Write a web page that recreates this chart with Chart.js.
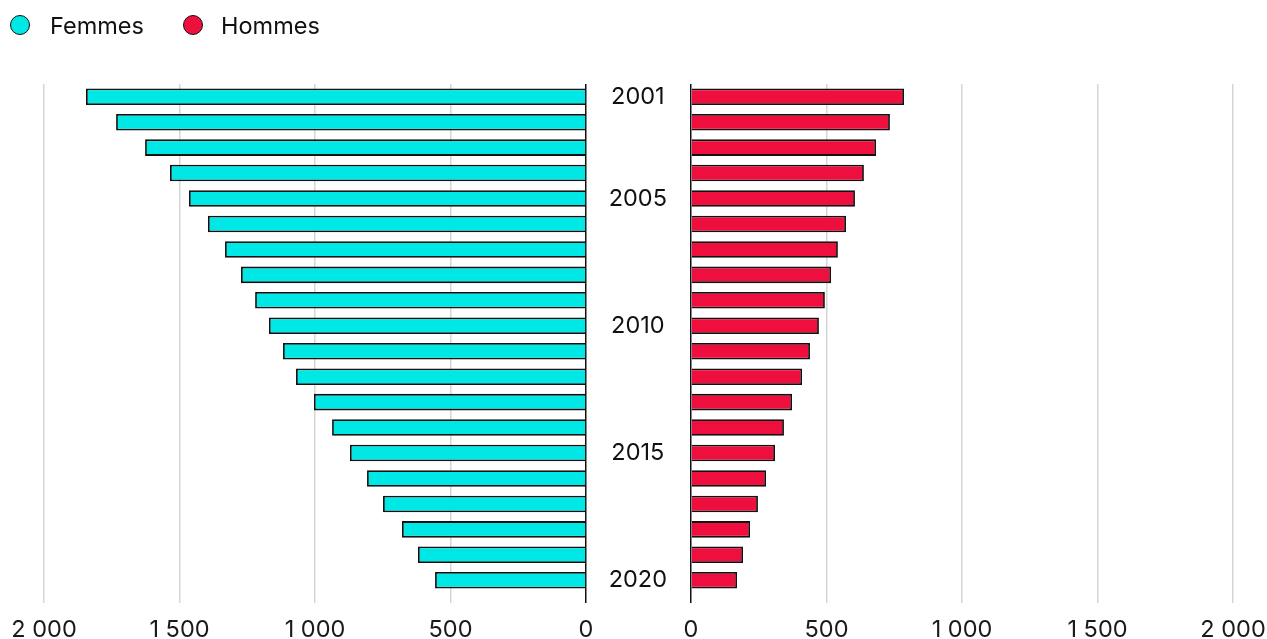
<!DOCTYPE html>
<html>
<head>
<meta charset="utf-8">
<script src="https://cdn.jsdelivr.net/npm/chart.js@4/dist/chart.umd.min.js"></script>
<style>
  body { margin:0; background:#fff; font-family: Inter, sans-serif; }
  #wrap { position:relative; width:1267px; height:639px; overflow:hidden; }
  canvas { position:absolute; top:0; }
  #left { left:0; }
  #right { left:586px; }
  .legend { position:absolute; top:0; left:0; height:50px; font-size:23.5px; color:#111; }
  .item { position:absolute; top:11px; display:flex; align-items:center; height:28px; }
  .dot { width:20px; height:20px; border-radius:50%; border:1px solid #111; box-sizing:border-box; }
</style>
</head>
<body>
<div id="wrap">
  <canvas id="left" width="620" height="639"></canvas>
  <canvas id="right" width="681" height="639"></canvas>
  <div class="legend">
    <div class="item" style="left:10px"><span class="dot" style="background:#00E8E6"></span><span style="margin-left:20px">Femmes</span></div>
    <div class="item" style="left:183px"><span class="dot" style="background:#EF0F3F"></span><span style="margin-left:18px">Hommes</span></div>
  </div>
</div>
<script>
// data
const years = ["2001","2002","2003","2004","2005","2006","2007","2008","2009","2010",
               "2011","2012","2013","2014","2015","2016","2017","2018","2019","2020"];
const femmes = [1845,1734,1627,1535,1465,1395,1332,1273,1221,1170,
                1118,1070,1004,937,871,808,749,679,620,557];
const hommes = [786,734,683,638,605,572,542,517,494,472,
                439,410,373,343,310,277,247,218,192,170];
const shownYears = ["2001","2005","2010","2015","2020"];

const cyan = "#00E8E6";
const red = "#EF0F3F";
const font = { family: "Inter", size: 23.5 };

function fmt(v){
  // 2000 -> "2 000"
  let s = String(v);
  if (s.length > 3) s = s.slice(0, -3) + "\u00A0" + s.slice(-3);
  return s;
}

function xScale(reverse){
  return {
    type: "linear",
    min: 0, max: 2000,
    reverse: reverse,
    border: { display: false },
    grid: {
      color: c => (c.tick && c.tick.value === 0) ? "#111" : "#d6d6d6",
      lineWidth: 1.5,
      tickLength: 10
    },
    ticks: { stepSize: 500, padding: 13, color: "#1a1a1a", font: font, callback: v => fmt(v), maxRotation: 0 },
    afterFit: s => { s.height = 46; s.paddingLeft = 0; s.paddingRight = 0; }
  };
}

const base = {
  indexAxis: "y",
  responsive: false,
  animation: false,
  plugins: { legend: { display: false }, tooltip: { enabled: false } }
};

new Chart(document.getElementById("left"), {
  type: "bar",
  data: {
    labels: years,
    datasets: [{
      label: "Femmes",
      data: femmes,
      backgroundColor: cyan,
      borderColor: "#111",
      borderWidth: 1.8,
      barPercentage: 0.65,
      categoryPercentage: 1
    }]
  },
  options: Object.assign({}, base, {
    layout: { padding: { left: 44, right: 34, top: 84, bottom: 0 } },
    scales: {
      x: xScale(true),
      y: { display: false }
    }
  })
});

new Chart(document.getElementById("right"), {
  type: "bar",
  data: {
    labels: years,
    datasets: [{
      label: "Hommes",
      data: hommes,
      backgroundColor: red,
      borderColor: "#111",
      borderWidth: 1.8,
      barPercentage: 0.65,
      categoryPercentage: 1
    }]
  },
  options: Object.assign({}, base, {
    layout: { padding: { left: 0, right: 34, top: 84, bottom: 0 } },
    scales: {
      x: xScale(false),
      y: {
        position: "left",
        afterFit: s => { s.width = 105; },
        border: { display: false },
        grid: { display: false, drawTicks: false },
        ticks: {
          autoSkip: false,
          crossAlign: "center",
          padding: 24,
          color: "#111",
          font: font,
          callback: function(v){ const l = this.getLabelForValue(v); return shownYears.includes(l) ? l : ""; }
        }
      }
    }
  })
});
</script>
</body>
</html>
